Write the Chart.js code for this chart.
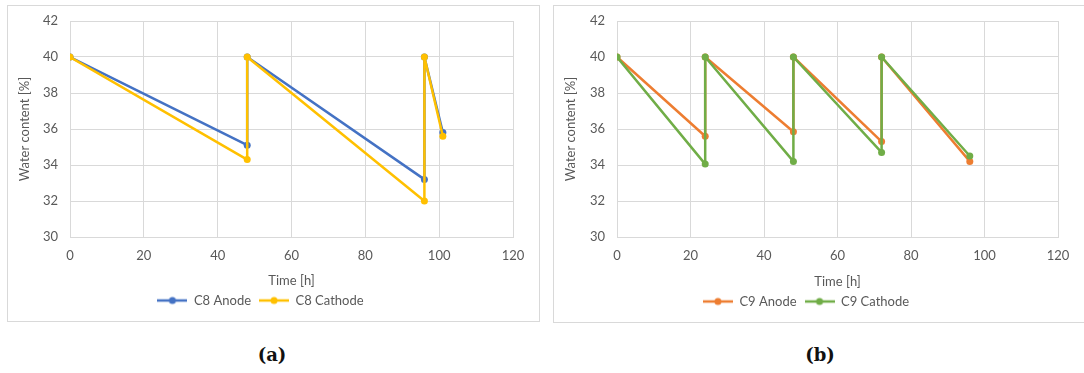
<!DOCTYPE html>
<html>
<head>
<meta charset="utf-8">
<script src="https://cdn.jsdelivr.net/npm/chart.js@4.4.0/dist/chart.umd.min.js"></script>
<style>
  body { margin: 0; background: #fff; width: 1084px; height: 373px; position: relative; overflow: hidden; }
  .box { position: absolute; border: 1px solid #d9d9d9; background: #fff; }
  .cap { position: absolute; top: 344px; font: bold 18px "DejaVu Serif", serif; color: #111; transform: translateX(-50%); }
</style>
</head>
<body>
<div class="box" style="left:7px; top:5px; width:531px; height:315px;"><canvas id="chartA" width="531" height="315"></canvas></div>
<div class="box" style="left:553px; top:5px; width:530px; height:316px;"><canvas id="chartB" width="530" height="316"></canvas></div>
<div class="cap" style="left:272px;">(a)</div>
<div class="cap" style="left:820px;">(b)</div>
<script>
// C8 data (left chart)
const c8Time = [0, 48, 48, 96, 96, 101]
const c8Anode = [40, 35.1, 40, 33.2, 40, 35.8]
const c8Cathode = [40, 34.3, 40, 32.0, 40, 35.6]

// C9 data (right chart)
const c9Time = [0, 24, 24, 48, 48, 72, 72, 96]
const c9Anode = [40, 35.6, 40, 35.85, 40, 35.3, 40, 34.2]
const c9Cathode = [40, 34.05, 40, 34.2, 40, 34.7, 40, 34.5]

const yTicks = [30, 32, 34, 36, 38, 40, 42]
const xTicks = [0, 20, 40, 60, 80, 100, 120]

const textColor = '#595959'
const gridColor = '#d9d9d9'
const font = { family: 'Lato, "Open Sans", sans-serif', size: 13 }

function legendSymbol(color) {
    const c = document.createElement('canvas')
    c.width = 30
    c.height = 10
    const g = c.getContext('2d')
    g.strokeStyle = color
    g.lineWidth = 2.5
    g.beginPath()
    g.moveTo(0, 5)
    g.lineTo(30, 5)
    g.stroke()
    g.fillStyle = color
    g.beginPath()
    g.arc(15, 5, 3.5, 0, Math.PI * 2)
    g.fill()
    return c
}

function points(xs, ys) {
    return xs.map((x, i) => ({ x: x, y: ys[i] }))
}

function series(label, xs, ys, color, order) {
    return {
        label: label,
        data: points(xs, ys),
        showLine: true,
        borderColor: color,
        backgroundColor: color,
        borderWidth: 2.5,
        borderJoinStyle: 'round',
        pointRadius: 3.5,
        pointHoverRadius: 3.5,
        pointBorderWidth: 0,
        order: order
    }
}

function drawChart(id, datasets, yWidth, xHeight) {
    new Chart(document.getElementById(id), {
        type: 'scatter',
        data: { datasets: datasets },
        options: {
            responsive: false,
            animation: false,
            layout: { padding: { left: 0, top: 15, right: 26, bottom: 4 } },
            plugins: {
                tooltip: { enabled: false },
                legend: {
                    position: 'bottom',
                    labels: {
                        color: textColor,
                        font: font,
                        usePointStyle: true,
                        pointStyleWidth: 30,
                        padding: 8,
                        sort: (a, b) => a.datasetIndex - b.datasetIndex,
                        generateLabels: chart => {
                            const items = Chart.defaults.plugins.legend.labels.generateLabels(chart)
                            items.forEach(it => {
                                it.pointStyle = legendSymbol(chart.data.datasets[it.datasetIndex].borderColor)
                            })
                            return items
                        }
                    }
                }
            },
            scales: {
                x: {
                    type: 'linear',
                    min: 0,
                    max: 120,
                    afterBuildTicks: s => { s.ticks = xTicks.map(v => ({ value: v })) },
                    afterFit: s => { s.height = xHeight },
                    grid: { color: gridColor, drawTicks: false },
                    border: { color: gridColor },
                    ticks: { color: textColor, font: font, padding: 11, maxRotation: 0 },
                    title: { display: true, text: 'Time [h]', color: textColor, font: font, padding: { top: 0, bottom: -3 } }
                },
                y: {
                    type: 'linear',
                    min: 30,
                    max: 42,
                    afterBuildTicks: s => { s.ticks = yTicks.map(v => ({ value: v })) },
                    afterFit: s => {
                        s.width = yWidth
                        s.paddingTop = 8
                        s.paddingBottom = 8
                    },
                    grid: { color: gridColor, drawTicks: false },
                    border: { color: gridColor },
                    ticks: { color: textColor, font: font, padding: 12 },
                    title: { display: true, text: 'Water content [%]', color: textColor, font: font, padding: { top: 9, bottom: 0 } }
                }
            }
        }
    })
}

drawChart('chartA', [
    series('C8 Anode', c8Time, c8Anode, '#4472c4', 1),
    series('C8 Cathode', c8Time, c8Cathode, '#ffc000', 0)
], 62, 49)

drawChart('chartB', [
    series('C9 Anode', c9Time, c9Anode, '#ed7d31', 1),
    series('C9 Cathode', c9Time, c9Cathode, '#70ad47', 0)
], 63, 50)
</script>
</body>
</html>
